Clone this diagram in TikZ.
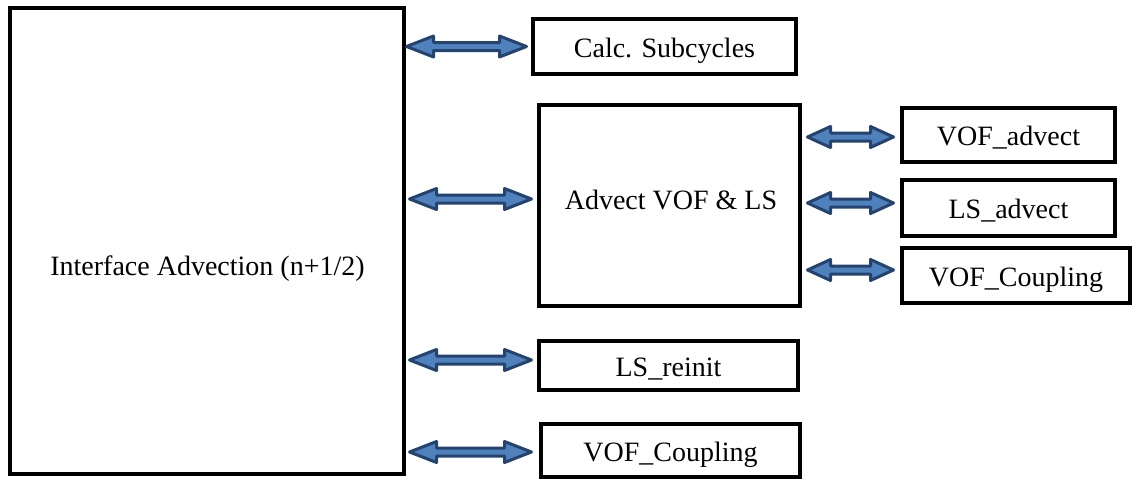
\documentclass[tikz,border=0pt]{standalone}
\usepackage{fontspec}
\setmainfont{Liberation Serif}
\usetikzlibrary{calc}
\definecolor{arrfill}{HTML}{4F81BD}
\definecolor{arredge}{HTML}{24436E}
\newcommand\blockarrow[3]{%
  \path[blockarr] let \p1=#1, \p2=#2 in
    (\x1,\y1) -- (\x1+#3,\y1+10.5pt) -- (\x1+#3,\y1+4pt) -- (\x2-#3,\y1+4pt)
    -- (\x2-#3,\y1+10.5pt) -- (\x2,\y1) -- (\x2-#3,\y1-10.5pt) -- (\x2-#3,\y1-4pt)
    -- (\x1+#3,\y1-4pt) -- (\x1+#3,\y1-10.5pt) -- cycle;}
\begin{document}
\begin{tikzpicture}[x=1pt,y=-1pt,
  box/.style={draw=black, line width=3.5pt, inner sep=0pt, outer sep=0pt, fill=white},
  lbl/.style={font=\fontsize{28}{33}\selectfont, inner sep=0pt, text height=21pt, text depth=0pt},
  blockarr/.style={fill=arrfill, draw=arredge, line width=3pt, line join=round}]
\useasboundingbox (0,0) rectangle (1133,479);
\node[box, line width=4pt, minimum width=394pt, minimum height=466pt] (main) at (207,241) {};
\node[lbl] (maintext) at (207.5,265) {Interface Advection (n+1/2)};
\node[box, minimum width=263pt, minimum height=55pt, lbl] (calc) at (664.5,46.5) {Calc. Subcycles};
\node[box, minimum width=261pt, minimum height=201pt] (advect) at (669.5,205.5) {};
\node[lbl] (advtext) at (671,199) {Advect VOF \& LS};
\node[box, minimum width=213pt, minimum height=54pt, lbl] (vofa) at (1008.5,135) {VOF\_advect};
\node[box, minimum width=213pt, minimum height=56pt, lbl] (lsa) at (1008.5,208) {LS\_advect};
\node[box, minimum width=228pt, minimum height=55pt, lbl] (vofc1) at (1016,275.5) {VOF\_Coupling};
\node[box, minimum width=259pt, minimum height=49pt, lbl] (lsr) at (668.5,365.5) {LS\_reinit};
\node[box, minimum width=259pt, minimum height=53pt, lbl] (vofc2) at (670.5,450.5) {VOF\_Coupling};
% block double arrows
\blockarrow{($(main.east |- calc.west)+(2.5,0)$)}{($(calc.west)+(-6.5,0)$)}{27pt}
\blockarrow{($(main.east |- advtext)+(5.5,0)$)}{($(advect.west |- advtext)+(-7.5,0)$)}{27pt}
\blockarrow{($(advect.east |- vofa.west)+(7.5,2)$)}{($(vofa.west)+(-8.5,2)$)}{23pt}
\blockarrow{($(advect.east |- lsa.west)+(7.5,-5)$)}{($(lsa.west)+(-8.5,-5)$)}{23pt}
\blockarrow{($(advect.east |- vofc1.west)+(7.5,-5.5)$)}{($(vofc1.west)+(-8.5,-5.5)$)}{23pt}
\blockarrow{($(main.east |- lsr.west)+(5.5,-5.5)$)}{($(lsr.west)+(-7.5,-5.5)$)}{27pt}
\blockarrow{($(main.east |- vofc2.west)+(5.5,1.5)$)}{($(vofc2.west)+(-9.5,1.5)$)}{27pt}
\end{tikzpicture}
\end{document}
